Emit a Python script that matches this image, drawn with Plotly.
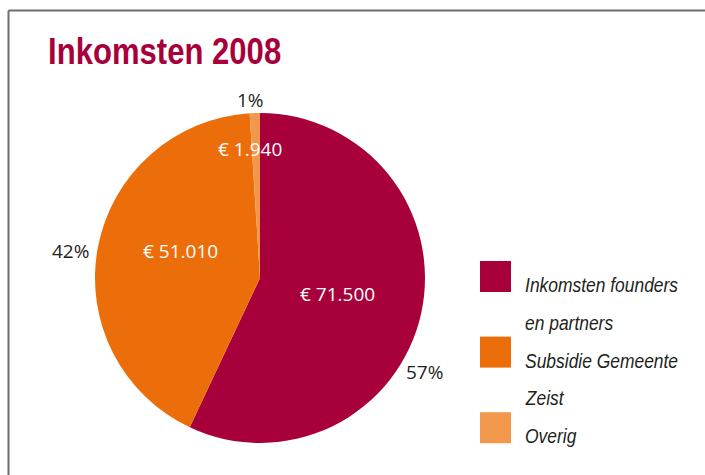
import math
import json
import plotly.graph_objects as go

# ---- data ----
categories = ["Inkomsten founders<br>en partners", "Subsidie Gemeente<br>Zeist", "Overig"]
amounts = [71500, 51010, 1940]
shares = [57, 42, 1]  # percentages as drawn
value_labels = ["€ 71.500", "€ 51.010", "€ 1.940"]
pct_labels = ["57%", "42%", "1%"]
colors = ["#A8003A", "#EC6E0A", "#F2984C"]
title_text = "Inkomsten 2008"

W, H = 705, 475
CX, CY, R = 260, 278, 165  # pie centre / radius in px

fig = go.Figure(go.Pie(
    labels=categories,
    values=shares,
    customdata=amounts,
    sort=False,
    direction="clockwise",
    rotation=0,
    marker=dict(colors=colors, line=dict(width=0)),
    textinfo="none",
    hovertemplate="%{label}<br>€ %{customdata}<extra></extra>",
    showlegend=False,
    domain=dict(x=[(CX - R) / W, (CX + R) / W], y=[(H - CY - R) / H, (H - CY + R) / H]),
))

# label placement (radius factor, angle offset in degrees)
val_place = [(0.48, -0.9), (0.51, 8.15), (0.784, -2.63)]
pct_place = [(1.149, 16.95), (1.16, -2.84), (1.08, -1.1)]

total = sum(shares)
annotations = []
squeeze = {}  # annotation index -> horizontal scale (condensed look)
start = 0.0
for i, v in enumerate(shares):
    span = v / total * 360
    mid = start + span / 2
    start += span
    for (rf, off), txt, col in ((val_place[i], value_labels[i], "white"),
                                (pct_place[i], pct_labels[i], "#231F20")):
        a = math.radians(mid + off)
        px = CX + rf * R * math.sin(a)
        py = CY - rf * R * math.cos(a)
        annotations.append(dict(
            x=px / W, y=1 - py / H, xref="paper", yref="paper",
            text=txt, showarrow=False, xanchor="center", yanchor="middle",
            font=dict(family="Open Sans, sans-serif", size=19, color=col),
        ))

# title
squeeze[len(annotations)] = 0.84
annotations.append(dict(
    x=46 / W, y=1 - 52 / H, xref="paper", yref="paper", text="<b>%s</b>" % title_text,
    showarrow=False, xanchor="left", yanchor="middle",
    font=dict(family="Liberation Sans, Arial, sans-serif", size=37, color="#A8003A"),
))

# custom legend
shapes = []
line_h = 37.8
first_line = 284.5
row = 0
for i, cat in enumerate(categories):
    lines = cat.split("<br>")
    top_line_y = first_line + row * line_h
    shapes.append(dict(type="rect", xref="paper", yref="paper",
                       x0=480 / W, x1=511 / W,
                       y0=1 - (top_line_y + 7.5) / H, y1=1 - (top_line_y - 23.5) / H,
                       fillcolor=colors[i], line=dict(width=0)))
    for ln in lines:
        yy = first_line + row * line_h
        squeeze[len(annotations)] = 0.83
        annotations.append(dict(
            x=523 / W, y=1 - yy / H, xref="paper", yref="paper", text="<i>%s</i>" % ln,
            showarrow=False, xanchor="left", yanchor="middle",
            font=dict(family="Liberation Sans, Arial, sans-serif", size=21, color="#231F20"),
        ))
        row += 1

# frame
shapes.append(dict(type="line", xref="paper", yref="paper", x0=8.5 / W, x1=1.0,
                   y0=1 - 10.5 / H, y1=1 - 10.5 / H, line=dict(color="#6E6E6E", width=2)))
shapes.append(dict(type="line", xref="paper", yref="paper", x0=8.5 / W, x1=8.5 / W,
                   y0=1 - 10.5 / H, y1=0, line=dict(color="#6E6E6E", width=2)))

fig.update_layout(
    width=W, height=H,
    margin=dict(l=0, r=0, t=0, b=0),
    paper_bgcolor="white", plot_bgcolor="white",
    annotations=annotations, shapes=shapes,
)

post = """
document.body.style.margin = '0';
document.body.style.overflow = 'hidden';
var gd = document.getElementById('{plot_id}');
var sq = %s;
Object.keys(sq).forEach(function(k) {
  var g = gd.querySelector('g.annotation[data-index="' + k + '"]');
  if (!g) return;
  var t = g.querySelector('text.annotation-text');
  if (!t) return;
  var bb = t.getBBox();
  var x0 = bb.x;
  var prev = t.getAttribute('transform') || '';
  t.setAttribute('transform', prev + ' translate(' + x0 + ',0) scale(' + sq[k] + ',1) translate(' + (-x0) + ',0)');
});
""" % json.dumps(squeeze)

fig.write_html("out.html", post_script=post, config={"displayModeBar": False})
